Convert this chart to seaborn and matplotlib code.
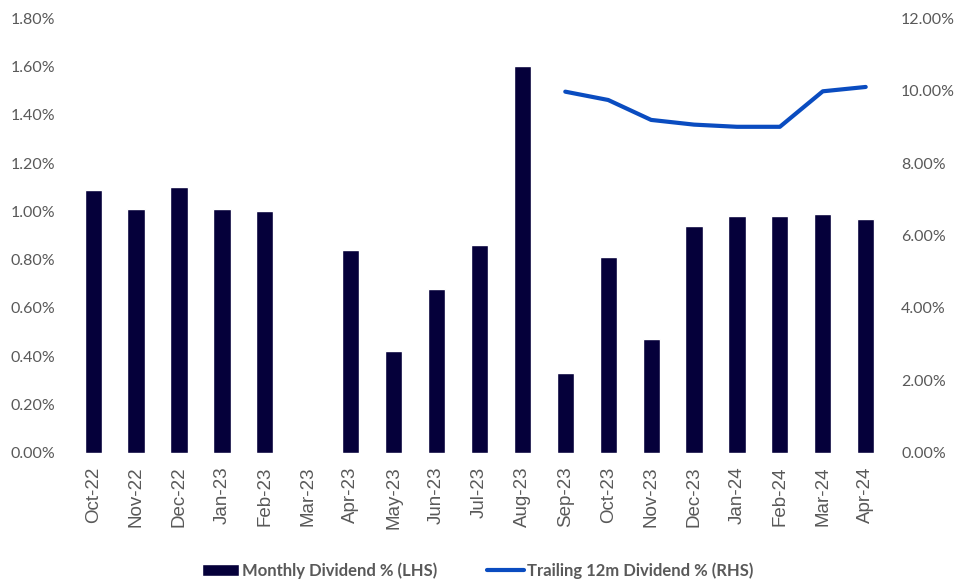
import numpy as np
import pandas as pd
import matplotlib.pyplot as plt
import seaborn as sns
from matplotlib.ticker import PercentFormatter
from matplotlib.patches import Patch
from matplotlib.lines import Line2D

months = ["Oct-22", "Nov-22", "Dec-22", "Jan-23", "Feb-23", "Mar-23", "Apr-23",
          "May-23", "Jun-23", "Jul-23", "Aug-23", "Sep-23", "Oct-23", "Nov-23",
          "Dec-23", "Jan-24", "Feb-24", "Mar-24", "Apr-24"]
monthly_div = [1.09, 1.01, 1.10, 1.01, 1.00, 0.0, 0.84, 0.42, 0.68, 0.86, 1.60,
               0.33, 0.81, 0.47, 0.94, 0.98, 0.98, 0.99, 0.97]
trailing_div = [np.nan] * 11 + [9.97, 9.74, 9.19, 9.06, 9.00, 9.00, 9.98, 10.10]

df = pd.DataFrame({"Month": months, "Monthly": monthly_div, "Trailing": trailing_div})
df["pos"] = df.index

bar_color = "#05003A"
line_color = "#0A4CC0"
text_color = "#595959"

sns.set_style("white")
plt.rcParams["font.family"] = ["Lato", "DejaVu Sans"]

fig, ax = plt.subplots(figsize=(9.56, 5.85), dpi=100)
fig.subplots_adjust(left=0.075, right=0.928, top=0.969, bottom=0.226)

sns.barplot(data=df, x="Month", y="Monthly", color=bar_color, width=0.4,
            saturation=1, ax=ax)
ax.set_xlim(-0.5, len(months) - 0.5)
ax.set_ylim(0, 1.8)
ax.set_yticks(np.arange(0, 1.81, 0.2))
ax.yaxis.set_major_formatter(PercentFormatter(decimals=2))
ax.set_xlabel("")
ax.set_ylabel("")
ax.tick_params(axis="x", rotation=90, labelsize=13.5, colors=text_color, length=0, pad=10)
ax.tick_params(axis="y", labelsize=11.5, colors=text_color, length=0, pad=12)
for lbl in ax.get_xticklabels():
    lbl.set_family(["Liberation Sans", "DejaVu Sans"])

ax2 = ax.twinx()
sns.lineplot(data=df.dropna(), x="pos", y="Trailing", color=line_color,
             linewidth=3, ax=ax2)
ax2.set_ylim(0, 12)
ax2.set_yticks(np.arange(0, 12.1, 2))
ax2.yaxis.set_major_formatter(PercentFormatter(decimals=2))
ax2.set_ylabel("")
ax2.tick_params(axis="y", labelsize=11.5, colors=text_color, length=0, pad=10)

for a in (ax, ax2):
    for s in a.spines.values():
        s.set_visible(False)

handles = [Patch(facecolor=bar_color, label="Monthly Dividend % (LHS)"),
           Line2D([0], [0], color=line_color, linewidth=3,
                  label="Trailing 12m Dividend % (RHS)")]
leg = fig.legend(handles=handles, loc="lower center", ncol=2, frameon=False,
                 bbox_to_anchor=(0.5, -0.015), fontsize=12, columnspacing=3,
                 handlelength=2.2, handletextpad=0.2)
for t in leg.get_texts():
    t.set_color(text_color)
    t.set_fontweight("bold")

fig.savefig("out.png", dpi=100)
